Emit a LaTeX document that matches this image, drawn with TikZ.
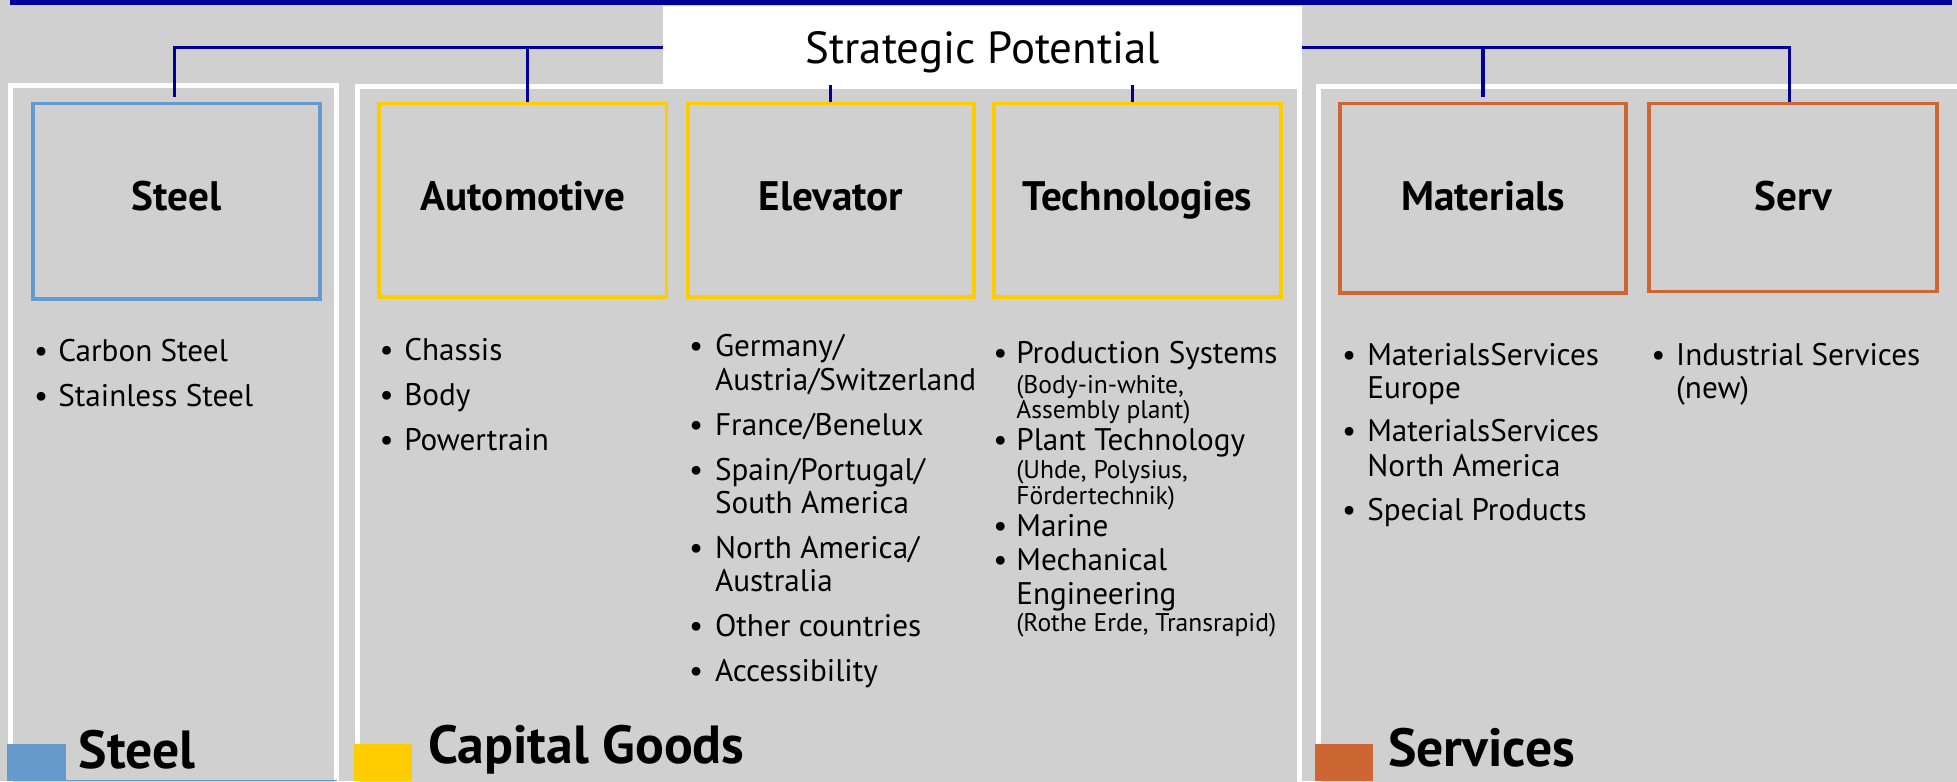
\documentclass[tikz,border=0pt]{standalone}
\usepackage{fontspec}
\setmainfont{PT Sans}
\definecolor{bgg}{HTML}{D0D0D0}
\definecolor{navy}{HTML}{000099}
\definecolor{sblue}{HTML}{6699CC}
\definecolor{gold}{HTML}{FFCC00}
\definecolor{rust}{HTML}{CC6633}
\pgfdeclarelayer{back}
\pgfdeclarelayer{mid}
\pgfsetlayers{back,mid,main}
\tikzset{
  panel/.style={draw=white, line width=4pt, fill=bgg},
  catbox/.style={draw=#1, line width=3pt, fill=bgg, inner sep=0pt},
  conn/.style={draw=navy, line width=2.5pt},
  ttl/.style={font=\bfseries\fontsize{33}{36}\selectfont, anchor=base, inner sep=0pt},
  itm/.style={font=\fontsize{25}{27}\selectfont, anchor=base west, inner sep=0pt},
  sml/.style={font=\fontsize{20.5}{22}\selectfont, anchor=base west, inner sep=0pt},
  bul/.style={font=\fontsize{25}{27}\selectfont, anchor=base, inner sep=0pt},
  leg/.style={font=\bfseries\fontsize{43}{46}\selectfont, anchor=base west, inner sep=0pt},
  legsq/.style={fill=#1, draw=none, inner sep=0pt, minimum width=47pt, minimum height=30pt, anchor=south west},
}
\begin{document}
\begin{tikzpicture}[x=1pt,y=-1pt]
\useasboundingbox (0,0) rectangle (1568,626);
\clip (0,0) rectangle (1568,626);
\begin{pgfonlayer}{back}
\fill[bgg] (0,0) rectangle (1568,626);
\fill[navy] (7.9,0) rectangle (1564,4);
\draw[panel] (8.5,68.8) rectangle (269.6,640);
\draw[panel] (286.7,69.6) rectangle (1040.8,640);
\draw[panel] (1056.5,69.2) rectangle (1580,640);
\draw[sblue, line width=1.2pt] (35,625.4) -- (270,625.4);
\end{pgfonlayer}

% category boxes
\node[catbox=sblue, minimum width=230pt, minimum height=156.5pt] (steel) at (141.5,161.25) {};
\node[catbox=gold, minimum width=230.2pt, minimum height=155.1pt] (auto) at (418.9,160.55) {};
\node[catbox=gold, minimum width=229.5pt, minimum height=155.1pt] (elev) at (665.75,160.55) {};
\node[catbox=gold, minimum width=230pt, minimum height=155.1pt] (tech) at (911.5,160.55) {};
\node[catbox=rust, minimum width=229.5pt, minimum height=151.9pt] (mat) at (1188.25,158.95) {};
\node[catbox=rust, minimum width=230.6pt, minimum height=150.5pt] (serv) at (1436.8,158.25) {};

\node[ttl] (steelt) at (141.5,168.8) {Steel};
\node[ttl] (autot) at (418.9,168.8) {Automotive};
\node[ttl] (elevt) at (665.75,168.8) {Elevator};
\node[ttl] (techt) at (911.5,168.8) {Technologies};
\node[ttl] (matt) at (1188.25,168.8) {Materials};
\node[ttl] (servt) at (1436.8,168.8) {Serv};

% strategic potential box
\node[fill=white, draw=none, inner sep=0pt, minimum width=511.4pt, minimum height=63.2pt] (sp) at (787.3,36.4) {};
\node[font=\fontsize{36}{40}\selectfont, anchor=base, inner sep=0pt] (spt) at (787.3,50.7) {Strategic Potential};

\begin{pgfonlayer}{mid}
\draw[conn] ([xshift=-2pt,yshift=4pt]steel.north) |- ([yshift=-1.8pt]sp.west);
\draw[conn] ([xshift=3.6pt]auto.north) |- ([yshift=-1.8pt]sp.west);
\draw[conn] ([xshift=-2.8pt]serv.north) |- ([yshift=-1.8pt]sp.east);
\draw[conn] ([yshift=3.5pt]mat.north) |- ([yshift=-1.8pt]sp.east);
\draw[conn] (elev.north) -- (elev.north |- sp.south);
\draw[conn] ([xshift=-4pt]tech.north) -- ([xshift=-4pt]tech.north |- sp.south);
\end{pgfonlayer}

% Steel list
\node[bul] (s1b) at (32.9,290) {•};
\node[itm] (s1) at (46.5,290) {Carbon Steel};
\node[bul] (s2b) at (32.9,326) {•};
\node[itm] (s2) at (46.5,326) {Stainless Steel};

% Automotive list
\node[bul] (a1b) at (309.8,288.5) {•};
\node[itm] (a1) at (323.7,288.5) {Chassis};
\node[bul] (a2b) at (309.8,324.5) {•};
\node[itm] (a2) at (323.7,324.5) {Body};
\node[bul] (a3b) at (309.8,360.6) {•};
\node[itm] (a3) at (323.7,360.6) {Powertrain};

% Elevator list
\node[bul] (e1b) at (557.7,285.8) {•};
\node[itm] (e1) at (572.7,285.8) {Germany/};
\node[itm] (e1c) at (572.7,312.5) {Austria/Switzerland};
\node[bul] (e2b) at (557.7,348.6) {•};
\node[itm] (e2) at (572.7,348.6) {France/Benelux};
\node[bul] (e3b) at (557.7,384.6) {•};
\node[itm] (e3) at (572.7,384.6) {Spain/Portugal/};
\node[itm] (e3c) at (572.7,411.3) {South America};
\node[bul] (e4b) at (557.7,447.4) {•};
\node[itm] (e4) at (572.7,447.4) {North America/};
\node[itm] (e4c) at (572.7,474.1) {Australia};
\node[bul] (e5b) at (557.7,509.6) {•};
\node[itm] (e5) at (572.7,509.6) {Other countries};
\node[bul] (e6b) at (557.7,546.2) {•};
\node[itm] (e6) at (572.7,546.2) {Accessibility};

% Technologies list
\node[bul] (t1b) at (801.6,291.1) {•};
\node[itm] (t1) at (814.1,291.1) {Production Systems};
\node[sml] (t1c) at (814.1,315.2) {(Body-in-white,};
\node[sml] (t1d) at (814.1,335.2) {Assembly plant)};
\node[bul] (t2b) at (801.6,360.6) {•};
\node[itm] (t2) at (814.1,360.6) {Plant Technology};
\node[sml] (t2c) at (814.1,383.3) {(Uhde, Polysius,};
\node[sml] (t2d) at (814.1,403.9) {Fördertechnik)};
\node[bul] (t3b) at (801.6,430) {•};
\node[itm] (t3) at (814.1,430) {Marine};
\node[bul] (t4b) at (801.6,456.7) {•};
\node[itm] (t4) at (814.1,456.7) {Mechanical};
\node[itm] (t4c) at (814.1,484) {Engineering};
\node[sml] (t4d) at (814.1,506.2) {(Rothe Erde, Transrapid)};

% Materials list
\node[bul] (m1b) at (1081,292.5) {•};
\node[itm] (m1) at (1095.3,292.5) {MaterialsServices};
\node[itm] (m1c) at (1095.3,319.2) {Europe};
\node[bul] (m2b) at (1081,353.9) {•};
\node[itm] (m2) at (1095.3,353.9) {MaterialsServices};
\node[itm] (m2c) at (1095.3,381.4) {North America};
\node[bul] (m3b) at (1081,417.2) {•};
\node[itm] (m3) at (1095.3,417.2) {Special Products};

% Serv list
\node[bul] (v1b) at (1328.7,292.5) {•};
\node[itm] (v1) at (1342.8,292.5) {Industrial Services};
\node[itm] (v1c) at (1342.8,319.2) {(new)};

% legend
\node[legsq=sblue] (lsq1) at (5.4,626) {};
\node[leg] (l1) at (62.9,616) {Steel};
\node[legsq=gold, minimum width=46pt] (lsq2) at (283.7,626) {};
\node[leg] (l2) at (343,611.6) {Capital Goods};
\node[legsq=rust, minimum width=46.3pt] (lsq3) at (1053.5,626) {};
\node[leg] (l3) at (1112,614.3) {Services};
\end{tikzpicture}
\end{document}
